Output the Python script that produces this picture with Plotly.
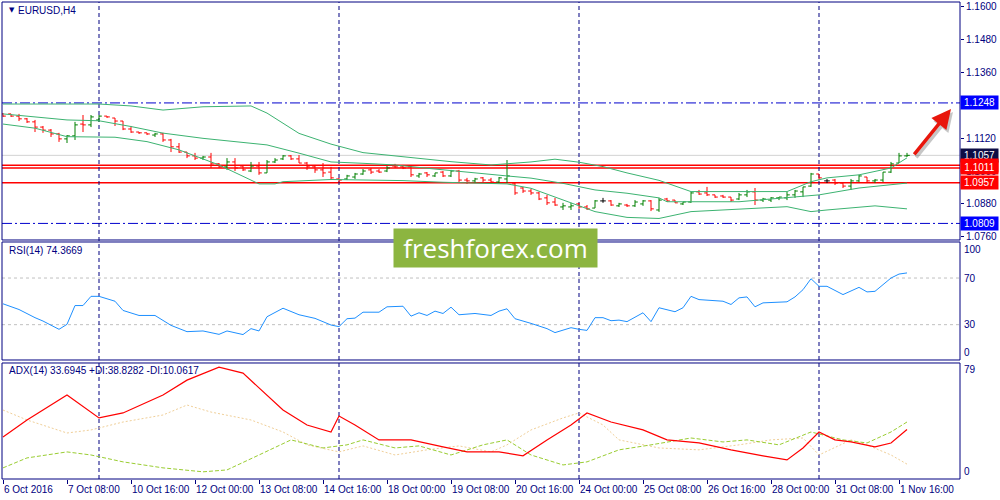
import plotly.graph_objects as go

# ---------------- data ----------------
bar_index = list(range(114))
open_ = [1.1208,1.1208,1.1200,1.1190,1.1179,1.1160,1.1149,1.1135,1.1117,1.1128,
         1.1171,1.1168,1.1186,1.1200,1.1193,1.1182,1.1153,1.1142,1.1139,1.1131,
         1.1135,1.1113,1.1088,1.1069,1.1055,1.1047,1.1051,1.1026,1.1015,1.1033,
         1.1018,1.1000,1.1018,1.0993,1.1033,1.1044,1.1055,1.1044,1.1029,1.1015,
         1.1004,1.0996,1.0971,1.0971,1.0978,1.0989,1.1004,1.1000,1.1000,1.1018,
         1.1015,1.1015,1.0982,1.0993,1.0982,1.0996,1.0982,1.1000,1.0967,1.0964,
         1.0975,1.0967,1.0960,1.0971,1.0953,1.0938,1.0927,1.0920,1.0902,1.0887,
         1.0869,1.0869,1.0880,1.0869,1.0865,1.0891,1.0891,1.0873,1.0876,1.0873,
         1.0880,1.0891,1.0858,1.0898,1.0894,1.0880,1.0887,1.0924,1.0920,1.0913,
         1.0909,1.0905,1.0898,1.0913,1.0924,1.0894,1.0894,1.0902,1.0902,1.0913,
         1.0924,1.0945,1.0989,1.0964,1.0967,1.0956,1.0945,1.0964,1.0978,1.0964,
         1.0967,1.0996,1.1029,1.1055]
high = [1.1211,1.1208,1.1208,1.1193,1.1186,1.1164,1.1153,1.1139,1.1131,1.1179,
        1.1204,1.1204,1.1204,1.1200,1.1193,1.1182,1.1164,1.1142,1.1139,1.1139,
        1.1139,1.1117,1.1102,1.1069,1.1066,1.1055,1.1066,1.1029,1.1047,1.1047,
        1.1022,1.1033,1.1033,1.1040,1.1047,1.1058,1.1058,1.1058,1.1033,1.1022,
        1.1029,1.1015,1.0975,1.0986,1.0993,1.1007,1.1011,1.1007,1.1018,1.1026,
        1.1022,1.1022,1.0993,1.0996,1.0993,1.1000,1.1004,1.1004,1.0975,1.0975,
        1.0978,1.0975,1.0978,1.1040,1.0956,1.0942,1.0935,1.0924,1.0913,1.0902,
        1.0884,1.0884,1.0884,1.0876,1.0894,1.0902,1.0894,1.0884,1.0880,1.0894,
        1.0894,1.0894,1.0902,1.0902,1.0894,1.0887,1.0924,1.0931,1.0942,1.0913,
        1.0913,1.0905,1.0920,1.0931,1.0938,1.0902,1.0905,1.0905,1.0924,1.0931,
        1.0942,1.0993,1.0989,1.0971,1.0971,1.0956,1.0971,1.0986,1.0978,1.0971,
        1.0996,1.1033,1.1066,1.1066]
low = [1.1197,1.1197,1.1182,1.1175,1.1142,1.1139,1.1124,1.1106,1.1102,1.1113,
       1.1142,1.1160,1.1179,1.1193,1.1164,1.1149,1.1139,1.1135,1.1131,1.1124,
       1.1106,1.1069,1.1066,1.1047,1.1040,1.1040,1.1011,1.1011,1.1004,1.1000,
       1.1000,1.0996,1.0986,1.0993,1.1029,1.1040,1.1040,1.1029,1.1004,1.0993,
       1.0978,1.0967,1.0960,1.0967,1.0971,1.0986,1.0989,1.0993,1.0996,1.1011,
       1.1007,1.0978,1.0975,1.0978,1.0978,1.0978,1.0978,1.0956,1.0953,1.0956,
       1.0960,1.0956,1.0956,1.0956,1.0913,1.0920,1.0913,1.0894,1.0876,1.0873,
       1.0858,1.0858,1.0862,1.0858,1.0865,1.0884,1.0873,1.0869,1.0869,1.0869,
       1.0873,1.0854,1.0851,1.0887,1.0884,1.0876,1.0884,1.0913,1.0909,1.0902,
       1.0902,1.0887,1.0894,1.0905,1.0876,1.0887,1.0887,1.0894,1.0894,1.0902,
       1.0905,1.0942,1.0967,1.0956,1.0949,1.0938,1.0931,1.0960,1.0956,1.0956,
       1.0960,1.0993,1.1029,1.1051]
close = [1.1200,1.1200,1.1190,1.1179,1.1160,1.1149,1.1135,1.1117,1.1128,1.1168,
         1.1168,1.1197,1.1200,1.1197,1.1182,1.1153,1.1142,1.1139,1.1135,1.1135,
         1.1113,1.1088,1.1069,1.1055,1.1047,1.1051,1.1026,1.1015,1.1033,1.1011,
         1.1004,1.1018,1.0993,1.1033,1.1040,1.1055,1.1044,1.1029,1.1015,1.1004,
         1.0993,1.0975,1.0967,1.0982,1.0989,1.1000,1.0996,1.0996,1.1011,1.1015,
         1.1011,1.0986,1.0989,1.0986,1.0993,1.0982,1.1000,1.0967,1.0964,1.0971,
         1.0967,1.0960,1.0975,1.0982,1.0920,1.0927,1.0920,1.0898,1.0884,1.0876,
         1.0873,1.0873,1.0869,1.0862,1.0891,1.0891,1.0876,1.0880,1.0873,1.0887,
         1.0891,1.0862,1.0894,1.0891,1.0884,1.0887,1.0920,1.0916,1.0913,1.0905,
         1.0905,1.0894,1.0913,1.0924,1.0894,1.0898,1.0902,1.0905,1.0913,1.0927,
         1.0942,1.0989,1.0975,1.0964,1.0956,1.0945,1.0964,1.0982,1.0964,1.0967,
         1.0996,1.1026,1.1055,1.1057]

bb_upper_idx = [0,6,12,16,20,25,31,33,37,41,45,49,56,61,64,66,69,72,75,78,82,86,92,98,101,103,107,111,113]
bb_upper = [1.1244,1.1244,1.1244,1.1237,1.1222,1.1234,1.1237,1.1211,1.1137,1.1098,
            1.1067,1.1055,1.1034,1.1022,1.1029,1.1033,1.1043,1.1032,1.1016,1.0993,
            1.0966,1.0925,1.0925,1.0925,1.0961,1.0975,1.0986,1.1011,1.1048]
bb_mid_idx = [0,4,8,12,16,20,25,29,33,37,41,45,49,53,57,61,63,66,70,74,78,82,83,92,99,102,107,113]
bb_mid = [1.1208,1.1198,1.1186,1.1183,1.1162,1.1138,1.1119,1.1107,1.1095,1.1065,
          1.1033,1.1028,1.1022,1.1010,1.0998,1.0986,1.0982,1.0974,1.0955,1.0931,
          1.0919,1.0902,1.0888,1.0888,1.0906,1.0913,1.0938,1.0956]
bb_low_idx = [0,4,8,14,18,22,27,32,34,35,41,50,55,61,63,66,70,74,78,82,86,98,101,103,109,113]
bb_low = [1.1171,1.1156,1.1125,1.1123,1.1107,1.1077,1.1022,1.0953,1.0953,1.0961,
          1.0969,1.0965,1.0959,1.0953,1.0953,1.0937,1.0894,1.0852,1.0831,1.0827,
          1.0852,1.0870,1.0852,1.0858,1.0873,1.0862]

rsi_idx = [0,2,4,5,7,8,9,10,11,12,14,15,17,19,21,23,25,27,28,30,31,32,33,35,37,39,41,42,43,44,
           45,47,48,50,51,52,53,54,55,56,57,59,61,62,63,64,66,68,69,71,72,73,74,75,76,77,78,80,81,82,
           84,85,86,87,90,91,92,93,94,95,98,99,100,101,102,103,105,107,108,109,111,112,113]
rsi = [47.9,43.0,36.0,33.1,26.0,30.3,46.4,46.4,54.3,54.3,50.1,42.2,37.9,37.9,29.4,24.0,24.6,21.7,24.6,21.5,
       26.6,24.6,36.8,44.1,38.5,35.4,29.7,28.3,35.1,35.6,40.7,40.7,45.3,45.8,37.3,40.2,37.9,41.6,39.6,45.0,
       38.5,39.6,37.9,41.6,43.6,35.1,31.1,26.6,23.2,27.4,26.0,25.1,36.0,36.0,33.4,33.9,32.6,40.2,32.6,44.5,
       41.1,44.5,54.3,51.5,50.1,47.3,53.0,53.8,45.3,48.7,49.6,53.8,60.0,69.4,62.9,62.9,55.8,62.0,58.1,58.6,
       70.0,73.4,74.37]

adx_idx = [0,3,8,12,15,20,23,27,30,32,35,38,41,42,44,47,51,55,58,62,65,68,71,73,76,80,83,87,91,95,98,100,102,104,106,109,111,113]
adx = [28.6,40.2,57.2,41.6,45.0,57.2,67.4,76.3,72.2,62.0,47.0,36.8,32.0,42.9,36.8,26.6,26.6,21.8,18.4,18.4,
       15.7,26.6,36.8,45.0,38.8,33.4,26.6,24.5,19.8,15.7,12.9,21.1,32.0,26.6,25.2,21.8,24.5,33.69]
pdi_idx = [0,3,8,11,15,20,25,28,32,36,40,43,45,49,52,56,60,63,66,70,73,77,81,86,90,93,97,101,105,108,111,113]
pdi = [7.5,14.3,18.4,16.3,11.6,7.5,4.8,6.1,16.3,26.6,21.1,23.2,26.6,21.1,22.5,16.3,23.2,26.6,16.3,9.5,
       11.6,19.8,23.2,27.9,25.2,26.6,23.2,32.0,26.6,24.5,32.0,38.83]
mdi_idx = [0,3,8,11,15,20,23,26,31,35,38,42,45,49,53,57,61,63,66,70,72,75,77,82,87,92,96,100,102,106,108,111,113]
mdi = [47.0,40.2,31.3,33.4,38.8,43.6,50.4,45.6,40.2,32.0,23.2,18.4,22.5,16.3,19.8,22.5,18.4,23.2,33.4,41.6,
       45.0,36.8,26.6,21.1,19.8,23.2,26.6,27.9,16.3,26.6,23.2,16.3,10.06]

x_label_idx = [0,8,16,24,32,40,48,56,64,72,80,88,96,104,112]
x_labels = ["6 Oct 2016","7 Oct 08:00","10 Oct 16:00","12 Oct 00:00","13 Oct 08:00","14 Oct 16:00",
            "18 Oct 00:00","19 Oct 08:00","20 Oct 16:00","24 Oct 00:00","25 Oct 08:00","26 Oct 16:00",
            "28 Oct 00:00","31 Oct 08:00","1 Nov 16:00"]
week_sep_idx = [12,42,72,102]
price_ticks = [1.1600,1.1480,1.1360,1.1240,1.1120,1.1000,1.0880,1.0760]
price_tick_text = ["1.1600","1.1480","1.1360","","1.1120","1.1000","1.0880","1.0760"]  # 1.1240 hidden under 1.1248 box
rsi_scale = [100,70,30,0]
rsi_levels = [70,30]
adx_scale = [79,0]

dashdot_levels = [1.1248,1.0809]
bid_level = 1.1057
red_levels = [1.1021,1.1011,1.0957]
label_blue = [1.1248,1.0809]
label_red_hidden = [1.1021]
label_red = [1.1011,1.0957]

arrow_head = (118.5, 1.1226)

# ---------------- styles ----------------
NAVY = "#000080"
FONT = "Liberation Sans"
W = 0.35

def bars_xy(idxs):
    xs, ys = [], []
    for i in idxs:
        xs += [i, i, None, i - W, i, None, i, i + W, None]
        ys += [low[i], high[i], None, open_[i], open_[i], None, close[i], close[i], None]
    return xs, ys

up = [i for i in bar_index if close[i] > open_[i]]
dn = [i for i in bar_index if close[i] < open_[i]]
dj = [i for i in bar_index if close[i] == open_[i]]

fig = go.Figure()
for grp, col in ((up, "#008000"), (dn, "#ff0000"), (dj, "#000000")):
    xs, ys = bars_xy(grp)
    fig.add_trace(go.Scatter(x=xs, y=ys, mode="lines", line=dict(color=col, width=1),
                             hoverinfo="skip", xaxis="x", yaxis="y"))
for ix, vals in ((bb_upper_idx, bb_upper), (bb_mid_idx, bb_mid), (bb_low_idx, bb_low)):
    fig.add_trace(go.Scatter(x=ix, y=vals, mode="lines", line=dict(color="#3cb371", width=1),
                             hoverinfo="skip", xaxis="x", yaxis="y"))
fig.add_trace(go.Scatter(x=rsi_idx, y=rsi, mode="lines", line=dict(color="#1e90ff", width=1),
                         hoverinfo="skip", xaxis="x", yaxis="y2"))
fig.add_trace(go.Scatter(x=mdi_idx, y=mdi, mode="lines", line=dict(color="#f0cf98", width=1, dash="2px,2px"),
                         hoverinfo="skip", xaxis="x", yaxis="y3"))
fig.add_trace(go.Scatter(x=pdi_idx, y=pdi, mode="lines", line=dict(color="#9acd32", width=1, dash="4px,2px"),
                         hoverinfo="skip", xaxis="x", yaxis="y3"))
fig.add_trace(go.Scatter(x=adx_idx, y=adx, mode="lines", line=dict(color="#ff0000", width=1.2),
                         hoverinfo="skip", xaxis="x", yaxis="y3"))

shapes = []
for lv in dashdot_levels:
    shapes.append(dict(type="line", xref="paper", x0=0, x1=1, yref="y", y0=lv, y1=lv,
                       line=dict(color="#0000cd", width=1, dash="10px,3px,2px,3px"), layer="below"))
shapes.append(dict(type="line", xref="paper", x0=0, x1=1, yref="y", y0=bid_level, y1=bid_level,
                   line=dict(color="#d3d3d3", width=1), layer="below"))
for lv in red_levels:
    shapes.append(dict(type="line", xref="paper", x0=0, x1=1, yref="y", y0=lv, y1=lv,
                       line=dict(color="#ff0000", width=1.5), layer="below"))
for lv in rsi_levels:
    shapes.append(dict(type="line", xref="paper", x0=0, x1=1, yref="y2", y0=lv, y1=lv,
                       line=dict(color="#c0c0c0", width=1, dash="3px,3px"), layer="below"))
for s in week_sep_idx:
    shapes.append(dict(type="line", xref="x", x0=s, x1=s, yref="paper", y0=0, y1=1,
                       line=dict(color=NAVY, width=1, dash="4px,3px"), layer="below"))
for ax in ("y", "y2", "y3"):
    shapes.append(dict(type="rect", xref="paper", x0=0, x1=1, yref=ax + " domain", y0=0, y1=1,
                       line=dict(color=NAVY, width=1), fillcolor="rgba(0,0,0,0)", layer="above"))

ann = []
for idx, txt in zip(x_label_idx, x_labels):
    ann.append(dict(x=idx, xref="x", y=0, yref="paper", yshift=-3, xshift=-1, text=txt, showarrow=False,
                    xanchor="left", yanchor="top", font=dict(family=FONT, size=10, color=NAVY)))
for lv in label_blue:
    ann.append(dict(x=1, xref="paper", y=lv, yref="y", text=f"{lv:.4f}", showarrow=False, xanchor="left",
                    yanchor="middle", bgcolor="#0000ff", font=dict(family=FONT, size=10, color="white"),
                    width=35, height=11, borderpad=1))
ann.append(dict(x=1, xref="paper", y=bid_level, yref="y", text=f"{bid_level:.4f}", showarrow=False,
                xanchor="left", yanchor="middle", bgcolor="#0d0d45", font=dict(family=FONT, size=10, color="white"),
                width=35, height=11, borderpad=1))
for lv in label_red_hidden:
    ann.append(dict(x=1, xref="paper", y=lv, yref="y", text="\u00a0", showarrow=False, xanchor="left",
                    yanchor="middle", bgcolor="#ff0000", font=dict(family=FONT, size=10, color="white"),
                    width=35, height=11, borderpad=1))
for lv in label_red:
    ann.append(dict(x=1, xref="paper", y=lv, yref="y", text=f"{lv:.4f}", showarrow=False, xanchor="left",
                    yanchor="middle", bgcolor="#ff0000", font=dict(family=FONT, size=10, color="white"),
                    width=35, height=11, borderpad=1))
for v in rsi_scale:
    sh = -6 if v == 100 else (7 if v == 0 else 0)
    ann.append(dict(x=1, xref="paper", xshift=2, y=v, yref="y2", yshift=sh, text=str(v), showarrow=False,
                    xanchor="left", yanchor="middle", font=dict(family=FONT, size=10, color=NAVY)))
for v in adx_scale:
    sh = -6 if v != 0 else 7
    ann.append(dict(x=1, xref="paper", xshift=2, y=v, yref="y3", yshift=sh, text=str(v), showarrow=False,
                    xanchor="left", yanchor="middle", font=dict(family=FONT, size=10, color=NAVY)))
ann.append(dict(x=0, xref="paper", xshift=5, y=1, yref="y domain", yshift=-8, text="▼", showarrow=False,
                xanchor="left", yanchor="middle", font=dict(family="DejaVu Sans", size=7, color=NAVY)))
ann.append(dict(x=0, xref="paper", xshift=14, y=1, yref="y domain", yshift=-8, text="EURUSD,H4", showarrow=False,
                xanchor="left", yanchor="middle", font=dict(family=FONT, size=10, color=NAVY)))
ann.append(dict(x=0, xref="paper", xshift=5, y=1, yref="y2 domain", yshift=-9, text="RSI(14) 74.3669",
                showarrow=False, xanchor="left", yanchor="middle", font=dict(family=FONT, size=10, color=NAVY)))
ann.append(dict(x=0, xref="paper", xshift=5, y=1, yref="y3 domain", yshift=-8,
                text="ADX(14) 33.6945 +DI:38.8282 -DI:10.0617",
                showarrow=False, xanchor="left", yanchor="middle", font=dict(family=FONT, size=10, color=NAVY)))
ann.append(dict(x=arrow_head[0], y=arrow_head[1], xref="x", yref="y", ax=-38, ay=47, text="", showarrow=True,
                arrowhead=2, arrowsize=1.1, arrowwidth=3.5, arrowcolor="rgba(0,0,0,0.22)", xshift=2, yshift=-3))
ann.append(dict(x=arrow_head[0], y=arrow_head[1], xref="x", yref="y", ax=-38, ay=47, text="", showarrow=True,
                arrowhead=2, arrowsize=1.1, arrowwidth=3.5, arrowcolor="#e8160c"))
ann.append(dict(x=0.5151, xref="paper", y=0.4842, yref="paper", text="freshforex.com", showarrow=False,
                xanchor="center", yanchor="middle", bgcolor="#8cb540", width=199, height=34, borderpad=2,
                font=dict(family="Open Sans", size=26, color="white")))

fig.update_layout(
    width=1000, height=500,
    margin=dict(l=2, r=40, t=2, b=21),
    paper_bgcolor="white", plot_bgcolor="white",
    showlegend=False,
    font=dict(family=FONT, size=10, color=NAVY),
    xaxis=dict(range=[-0.125, 119.625], anchor="y3", showgrid=False, zeroline=False, showline=False,
               tickmode="array", tickvals=x_label_idx, ticks="outside", ticklen=4, tickcolor=NAVY,
               showticklabels=False, fixedrange=True),
    yaxis=dict(domain=[0.50105, 1], range=[1.07486, 1.16157], side="right", anchor="x",
               tickmode="array", tickvals=price_ticks, ticktext=price_tick_text,
               ticks="outside", ticklen=3, tickcolor=NAVY,
               tickfont=dict(family=FONT, size=10, color=NAVY),
               showgrid=False, zeroline=False, showline=False),
    yaxis2=dict(domain=[0.24948, 0.49686], range=[-0.3, 100.9], anchor="x", side="right",
                showticklabels=False, showgrid=False, zeroline=False, ticks=""),
    yaxis3=dict(domain=[0, 0.24319], range=[-0.1, 79.1], anchor="x", side="right",
                showticklabels=False, showgrid=False, zeroline=False, ticks=""),
    shapes=shapes,
    annotations=ann,
)

fig.write_html("out.html", config={"displayModeBar": False},
               post_script="document.body.style.margin='0';document.body.style.overflow='hidden';")
